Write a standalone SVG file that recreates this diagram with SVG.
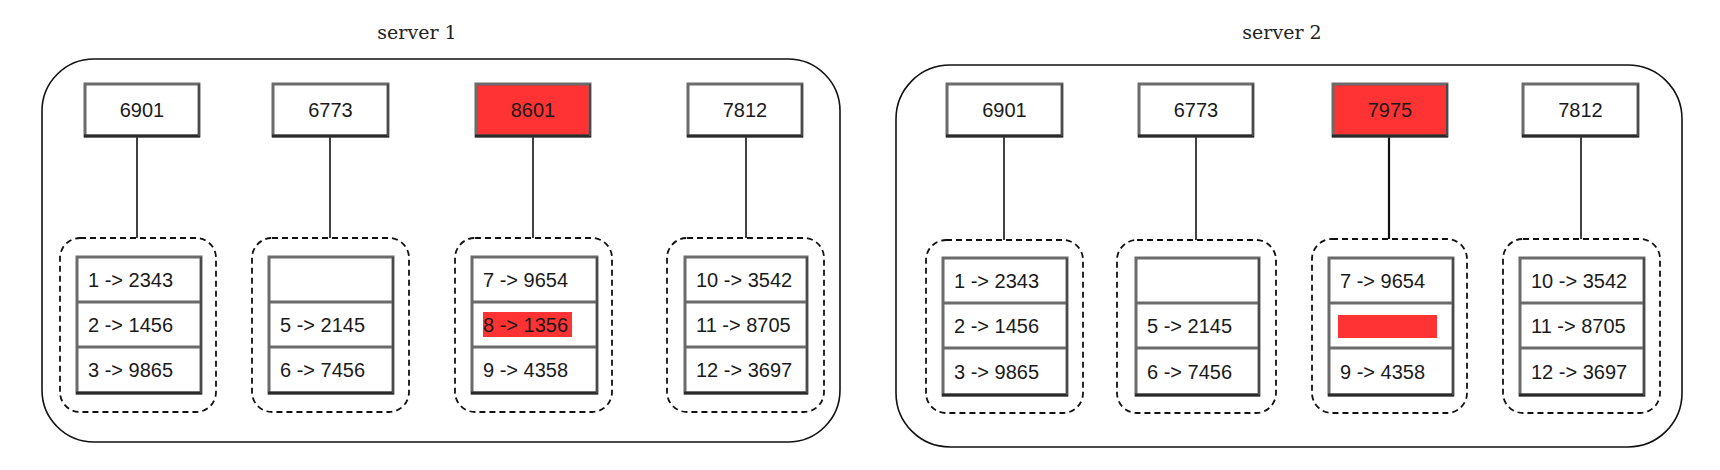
<svg xmlns="http://www.w3.org/2000/svg" width="1720" height="470" viewBox="0 0 1720 470">
<style>
.bg{fill:#ffffff}
.server{fill:none;stroke:#111;stroke-width:1.6}
.title{font-family:"DejaVu Serif","Liberation Serif",serif;font-size:19px;fill:#222;text-anchor:middle}
.box{fill:#ffffff;stroke:#6b6b6b;stroke-width:3}
.hot{fill:#ff3333;stroke:#6b6b6b;stroke-width:3}
.shade{stroke:#2a2a2a;stroke-width:3;fill:none}
.shadeR{stroke:#4a4a4a;stroke-width:2;fill:none}
.sep{stroke:#6b6b6b;stroke-width:3}
.lbl{font-family:"Liberation Sans",Arial,sans-serif;font-size:20px;fill:#1a1a1a}
.mid{text-anchor:middle}
.dash{fill:none;stroke:#111;stroke-width:1.8;stroke-dasharray:6 4}
.conn{stroke:#111;stroke-width:1.6;fill:none}
.mark{fill:#ff3333}
</style>
<rect class="bg" x="0" y="0" width="1720" height="470"/>

<!-- server 1 -->
<g id="server1">
<text class="title" x="417" y="39">server 1</text>
<rect class="server" x="42" y="59" width="798" height="383" rx="52" ry="52"/>
</g>
<!-- server 2 -->
<g id="server2">
<text class="title" x="1282" y="39">server 2</text>
<rect class="server" x="896" y="65" width="786" height="382" rx="54" ry="54"/>
</g>

<g id="connectors">
<line class="conn" x1="137" y1="137" x2="137" y2="238"/>
<line class="conn" x1="330" y1="137" x2="330" y2="238"/>
<line class="conn" x1="533" y1="137" x2="533" y2="238"/>
<line class="conn" x1="746" y1="137" x2="746" y2="238"/>
<line class="conn" x1="1004" y1="137" x2="1004" y2="240"/>
<line class="conn" x1="1196" y1="137" x2="1196" y2="240"/>
<line class="conn" x1="1389" y1="137" x2="1389" y2="239" style="stroke-width:2.2"/>
<line class="conn" x1="1581" y1="137" x2="1581" y2="239"/>
</g>

<!-- server 1 top nodes -->
<g id="s1-n6901">
<rect class="box" x="85" y="84" width="114" height="52"/>
<line class="shade" x1="84" y1="136" x2="200" y2="136"/><line class="shadeR" x1="199" y1="84" x2="199" y2="136"/>
<text class="lbl mid" x="142" y="117">6901</text>
</g>
<g id="s1-n6773">
<rect class="box" x="273" y="84" width="115" height="52"/>
<line class="shade" x1="272" y1="136" x2="389" y2="136"/><line class="shadeR" x1="388" y1="84" x2="388" y2="136"/>
<text class="lbl mid" x="330.5" y="117">6773</text>
</g>
<g id="s1-n8601">
<rect class="hot" x="476" y="84" width="114" height="52"/>
<line class="shade" x1="475" y1="136" x2="591" y2="136"/><line class="shadeR" x1="590" y1="84" x2="590" y2="136"/>
<text class="lbl mid" x="533" y="117">8601</text>
</g>
<g id="s1-n7812">
<rect class="box" x="688" y="84" width="114" height="52"/>
<line class="shade" x1="687" y1="136" x2="803" y2="136"/><line class="shadeR" x1="802" y1="84" x2="802" y2="136"/>
<text class="lbl mid" x="745" y="117">7812</text>
</g>

<!-- server 1 partitions -->
<g id="s1-p1">
<rect class="dash" x="60" y="238" width="156" height="174" rx="20" ry="20"/>
<rect class="box" x="77" y="257" width="124" height="136"/>
<line class="sep" x1="77" y1="302" x2="201" y2="302"/><line class="sep" x1="77" y1="347" x2="201" y2="347"/>
<line class="shade" x1="76" y1="393" x2="202" y2="393"/><line class="shadeR" x1="201" y1="257" x2="201" y2="393"/>
<text class="lbl" x="88" y="286.5">1 -&gt; 2343</text>
<text class="lbl" x="88" y="331.5">2 -&gt; 1456</text>
<text class="lbl" x="88" y="377">3 -&gt; 9865</text>
</g>
<g id="s1-p2">
<rect class="dash" x="252" y="238" width="157" height="174" rx="20" ry="20"/>
<rect class="box" x="269" y="257" width="124" height="136"/>
<line class="sep" x1="269" y1="302" x2="393" y2="302"/><line class="sep" x1="269" y1="347" x2="393" y2="347"/>
<line class="shade" x1="268" y1="393" x2="394" y2="393"/><line class="shadeR" x1="393" y1="257" x2="393" y2="393"/>
<text class="lbl" x="280" y="331.5">5 -&gt; 2145</text>
<text class="lbl" x="280" y="377">6 -&gt; 7456</text>
</g>
<g id="s1-p3">
<rect class="dash" x="455" y="238" width="157" height="174" rx="20" ry="20"/>
<rect class="box" x="472" y="257" width="125" height="136"/>
<line class="sep" x1="472" y1="302" x2="597" y2="302"/><line class="sep" x1="472" y1="347" x2="597" y2="347"/>
<line class="shade" x1="471" y1="393" x2="598" y2="393"/><line class="shadeR" x1="597" y1="257" x2="597" y2="393"/>
<text class="lbl" x="483" y="286.5">7 -&gt; 9654</text>
<rect class="mark" x="483" y="312" width="89" height="25"/>
<text class="lbl" x="483" y="331.5">8 -&gt; 1356</text>
<text class="lbl" x="483" y="377">9 -&gt; 4358</text>
</g>
<g id="s1-p4">
<rect class="dash" x="667" y="238" width="157" height="174" rx="20" ry="20"/>
<rect class="box" x="685" y="257" width="122" height="136"/>
<line class="sep" x1="685" y1="302" x2="807" y2="302"/><line class="sep" x1="685" y1="347" x2="807" y2="347"/>
<line class="shade" x1="684" y1="393" x2="808" y2="393"/><line class="shadeR" x1="807" y1="257" x2="807" y2="393"/>
<text class="lbl" x="696" y="286.5">10 -&gt; 3542</text>
<text class="lbl" x="696" y="331.5">11 -&gt; 8705</text>
<text class="lbl" x="696" y="377">12 -&gt; 3697</text>
</g>

<!-- server 2 top nodes -->
<g id="s2-n6901">
<rect class="box" x="947" y="84" width="115" height="52"/>
<line class="shade" x1="946" y1="136" x2="1063" y2="136"/><line class="shadeR" x1="1062" y1="84" x2="1062" y2="136"/>
<text class="lbl mid" x="1004.5" y="117">6901</text>
</g>
<g id="s2-n6773">
<rect class="box" x="1139" y="84" width="114" height="52"/>
<line class="shade" x1="1138" y1="136" x2="1254" y2="136"/><line class="shadeR" x1="1253" y1="84" x2="1253" y2="136"/>
<text class="lbl mid" x="1196" y="117">6773</text>
</g>
<g id="s2-n7975">
<rect class="hot" x="1333" y="84" width="114" height="52"/>
<line class="shade" x1="1332" y1="136" x2="1448" y2="136"/><line class="shadeR" x1="1447" y1="84" x2="1447" y2="136"/>
<text class="lbl mid" x="1390" y="117">7975</text>
</g>
<g id="s2-n7812">
<rect class="box" x="1523" y="84" width="115" height="52"/>
<line class="shade" x1="1522" y1="136" x2="1639" y2="136"/><line class="shadeR" x1="1638" y1="84" x2="1638" y2="136"/>
<text class="lbl mid" x="1580.5" y="117">7812</text>
</g>

<!-- server 2 partitions -->
<g id="s2-p1">
<rect class="dash" x="926" y="240" width="157" height="173" rx="20" ry="20"/>
<rect class="box" x="943" y="258" width="124" height="137"/>
<line class="sep" x1="943" y1="303" x2="1067" y2="303"/><line class="sep" x1="943" y1="348" x2="1067" y2="348"/>
<line class="shade" x1="942" y1="395" x2="1068" y2="395"/><line class="shadeR" x1="1067" y1="258" x2="1067" y2="395"/>
<text class="lbl" x="954" y="288">1 -&gt; 2343</text>
<text class="lbl" x="954" y="333">2 -&gt; 1456</text>
<text class="lbl" x="954" y="378.5">3 -&gt; 9865</text>
</g>
<g id="s2-p2">
<rect class="dash" x="1117" y="240" width="159" height="173" rx="20" ry="20"/>
<rect class="box" x="1136" y="258" width="123" height="137"/>
<line class="sep" x1="1136" y1="303" x2="1259" y2="303"/><line class="sep" x1="1136" y1="348" x2="1259" y2="348"/>
<line class="shade" x1="1135" y1="395" x2="1260" y2="395"/><line class="shadeR" x1="1259" y1="258" x2="1259" y2="395"/>
<text class="lbl" x="1147" y="333">5 -&gt; 2145</text>
<text class="lbl" x="1147" y="378.5">6 -&gt; 7456</text>
</g>
<g id="s2-p3">
<rect class="dash" x="1312" y="239" width="155" height="174" rx="20" ry="20"/>
<rect class="box" x="1329" y="258" width="124" height="137"/>
<line class="sep" x1="1329" y1="303" x2="1453" y2="303"/><line class="sep" x1="1329" y1="348" x2="1453" y2="348"/>
<line class="shade" x1="1328" y1="395" x2="1454" y2="395"/><line class="shadeR" x1="1453" y1="258" x2="1453" y2="395"/>
<text class="lbl" x="1340" y="288">7 -&gt; 9654</text>
<rect class="mark" x="1338" y="315" width="99" height="23"/>
<text class="lbl" x="1340" y="378.5">9 -&gt; 4358</text>
</g>
<g id="s2-p4">
<rect class="dash" x="1503" y="239" width="157" height="174" rx="20" ry="20"/>
<rect class="box" x="1520" y="258" width="124" height="137"/>
<line class="sep" x1="1520" y1="303" x2="1644" y2="303"/><line class="sep" x1="1520" y1="348" x2="1644" y2="348"/>
<line class="shade" x1="1519" y1="395" x2="1645" y2="395"/><line class="shadeR" x1="1644" y1="258" x2="1644" y2="395"/>
<text class="lbl" x="1531" y="288">10 -&gt; 3542</text>
<text class="lbl" x="1531" y="333">11 -&gt; 8705</text>
<text class="lbl" x="1531" y="378.5">12 -&gt; 3697</text>
</g>
</svg>
